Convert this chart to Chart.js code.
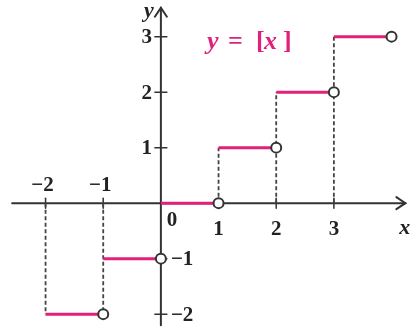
<!DOCTYPE html>
<html><head><meta charset="utf-8">
<script src="https://cdn.jsdelivr.net/npm/chart.js@4/dist/chart.umd.min.js"></script>
<style>html,body{margin:0;padding:0;background:#fff}canvas{display:block}</style>
</head><body>
<canvas id="c" width="410" height="333"></canvas>
<script>
// Data: y = [x] (floor function)
const stepStarts = [-2, -1, 0, 1, 2, 3];
const stepValues = [-2, -1, 0, 1, 2, 3];
const xTickValues = [-2, -1, 0, 1, 2, 3];
const xTickLabels = ['−2', '−1', '0', '1', '2', '3'];
const yTickValues = [-2, -1, 1, 2, 3];
const yTickLabels = ['−2', '−1', '1', '2', '3'];
const dashedXs = [-2, -1, 1, 2, 3];
const dashedEnds = [-2, -2, 1, 2, 3];

const MAG = '#e0207a';
const AX = '#333333';

const datasets = [];
dashedXs.forEach((x, i) => {
  datasets.push({
    type: 'line', data: [{x: x, y: 0}, {x: x, y: dashedEnds[i]}],
    borderColor: '#444', borderWidth: 1.8, borderDash: [4, 2.5],
    pointRadius: 0, order: 3
  });
});
stepStarts.forEach((x, i) => {
  datasets.push({
    type: 'line', data: [{x: x, y: stepValues[i]}, {x: x + 1, y: stepValues[i]}],
    borderColor: MAG, borderWidth: 3,
    pointRadius: [0, 5], pointBackgroundColor: '#fff', pointBorderColor: AX,
    pointBorderWidth: 2, order: 1
  });
});

const axesPlugin = {
  id: 'axes',
  beforeDatasetsDraw(chart) {
    const ctx = chart.ctx, xs = chart.scales.x, ys = chart.scales.y;
    const x0 = xs.getPixelForValue(0), y0 = ys.getPixelForValue(0);
    ctx.save();
    ctx.strokeStyle = AX; ctx.lineWidth = 2; ctx.lineCap = 'round';
    const xl = xs.getPixelForValue(-2.58), xr = xs.getPixelForValue(4.24);
    ctx.beginPath(); ctx.moveTo(xl, y0); ctx.lineTo(xr, y0); ctx.stroke();
    ctx.beginPath(); ctx.moveTo(xr - 9, y0 - 6); ctx.lineTo(xr, y0); ctx.lineTo(xr - 9, y0 + 6); ctx.stroke();
    const yb = ys.getPixelForValue(-2.2), yt = ys.getPixelForValue(3.52);
    ctx.beginPath(); ctx.moveTo(x0, yb); ctx.lineTo(x0, yt); ctx.stroke();
    ctx.beginPath(); ctx.moveTo(x0 - 6, yt + 9); ctx.lineTo(x0, yt); ctx.lineTo(x0 + 6, yt + 9); ctx.stroke();
    ctx.lineWidth = 1.5;
    yTickValues.forEach(v => {
      const p = ys.getPixelForValue(v);
      ctx.beginPath(); ctx.moveTo(x0 - 6, p); ctx.lineTo(x0 + 6, p); ctx.stroke();
    });
    xTickValues.forEach(v => {
      if (v === 0) return;
      const p = xs.getPixelForValue(v);
      ctx.beginPath(); ctx.moveTo(p, y0 - 5); ctx.lineTo(p, y0 + 5); ctx.stroke();
    });
    ctx.restore();
  },
  afterDatasetsDraw(chart) {
    const ctx = chart.ctx, xs = chart.scales.x, ys = chart.scales.y;
    const x0 = xs.getPixelForValue(0), y0 = ys.getPixelForValue(0);
    ctx.save();
    ctx.fillStyle = '#222';
    ctx.font = 'bold 21px "Liberation Serif", serif';
    ctx.textBaseline = 'middle';
    xTickValues.forEach((v, i) => {
      const p = xs.getPixelForValue(v);
      ctx.textAlign = 'center';
      if (v < 0) ctx.fillText(xTickLabels[i], p - 3, y0 - 18);
      else if (v === 0) ctx.fillText(xTickLabels[i], x0 + 11, y0 + 17);
      else ctx.fillText(xTickLabels[i], p, y0 + 26);
    });
    yTickValues.forEach((v, i) => {
      const p = ys.getPixelForValue(v);
      if (v < 0) { ctx.textAlign = 'left'; ctx.fillText(yTickLabels[i], x0 + 10, p + 1); }
      else { ctx.textAlign = 'right'; ctx.fillText(yTickLabels[i], x0 - 9, p + 1); }
    });
    ctx.font = 'italic bold 22px "Liberation Serif", serif';
    ctx.textAlign = 'center';
    ctx.fillText('y', x0 - 12, ys.getPixelForValue(3.45));
    ctx.fillText('x', xs.getPixelForValue(4.23), y0 + 25);
    // formula label: italic variables, upright symbols
    ctx.fillStyle = MAG;
    ctx.textAlign = 'left';
    const parts = [['y', true, 207], ['=', false, 228], ['[', false, 256], ['x', true, 264], [']', false, 283]];
    parts.forEach(([t, it, px]) => {
      ctx.font = (it ? 'italic ' : '') + 'bold 26px "Liberation Serif", serif';
      ctx.fillText(t, px, 42);
    });
    ctx.restore();
  }
};

new Chart(document.getElementById('c'), {
  type: 'line',
  data: { datasets },
  options: {
    responsive: false, animation: false, devicePixelRatio: 1,
    layout: { padding: 0, autoPadding: false },
    plugins: { legend: { display: false }, tooltip: { enabled: false } },
    scales: {
      x: { type: 'linear', min: -2.79, max: 4.32, display: false },
      y: { type: 'linear', min: -2.34, max: 3.66, display: false }
    }
  },
  plugins: [axesPlugin]
});
</script>
</body></html>
